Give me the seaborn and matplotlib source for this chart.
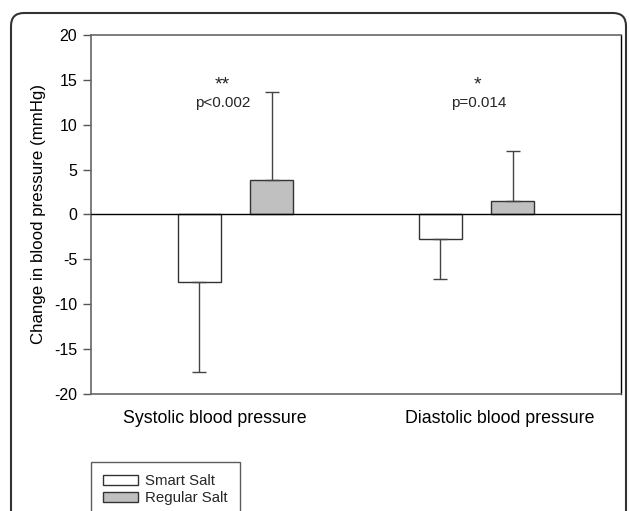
import numpy as np
import pandas as pd
import matplotlib
matplotlib.use('Agg')
import matplotlib.pyplot as plt
import seaborn as sns
from matplotlib.patches import FancyBboxPatch, Patch

# data
categories = ['Systolic blood pressure', 'Diastolic blood pressure']
groups = ['Smart Salt', 'Regular Salt']
smart_means = [-7.5, -2.7]
regular_means = [3.8, 1.5]
smart_err = [10.1, 4.5]      # one-sided SD, drawn away from zero
regular_err = [9.9, 5.6]
stars = ['**', '*']
pvals = ['p<0.002', 'p=0.014']

df = pd.DataFrame({
    'measure': categories * 2,
    'group': [groups[0]] * 2 + [groups[1]] * 2,
    'change': smart_means + regular_means,
    'err': smart_err + regular_err,
})

sns.set_theme(style='white')
plt.rcParams['font.family'] = ['Liberation Sans', 'DejaVu Sans']
plt.rcParams['axes.unicode_minus'] = False

fig = plt.figure(figsize=(6.3, 5.11), dpi=100)
ax = fig.add_axes([0.1444, 0.229, 0.8413, 0.7025])

sns.barplot(data=df, x='measure', y='change', hue='group', order=categories,
            hue_order=groups, palette=['white', '#c0c0c0'], edgecolor='#333333',
            linewidth=1, width=0.6, gap=0.4, errorbar=None, legend=False, ax=ax)

# one-sided error bars, positioned on the bars seaborn drew
for bar, (_, row) in zip(ax.patches, df.iterrows()):
    xc = bar.get_x() + bar.get_width() / 2
    if row['change'] < 0:
        yerr = [[row['err']], [0]]
    else:
        yerr = [[0], [row['err']]]
    ax.errorbar(xc, row['change'], yerr=yerr, fmt='none', ecolor='#444444',
                elinewidth=1, capsize=5, capthick=1)

ax.axhline(0, color='black', lw=1, zorder=3)

ax.set_xlim(-0.6, 1.6)
ax.set_ylim(-20, 20)
ax.set_yticks(np.arange(-20, 21, 5))
ax.set_xticks([-0.5, 0, 0.5, 1, 1.5])
ax.set_xticklabels([])
ax.tick_params(axis='x', direction='in', length=3, color='#555555')
ax.tick_params(axis='y', direction='out', length=6, width=1, color='#555555',
               left=True, labelsize=11.5, labelcolor='black', pad=4)
ax.set_xlabel('')
ax.set_ylabel('Change in blood pressure (mmHg)', fontsize=12.2, color='black', labelpad=6)

for side in ['left', 'top', 'bottom']:
    ax.spines[side].set_color('#666666')
    ax.spines[side].set_linewidth(1.2)
ax.spines['right'].set_color('black')
ax.spines['right'].set_linewidth(1)

# category labels under the axis
label_x = [-0.085, 1.097]
for xl, name in zip(label_x, categories):
    ax.text(xl, -22.7, name, ha='center', va='center', fontsize=12.8, color='black')

# significance annotations
for i, (s, p) in enumerate(zip(stars, pvals)):
    ax.text(i - 0.055 + 0.06 * i, 14.4, s, ha='center', va='center', fontsize=14)
    ax.text(i - 0.055 + 0.065 * i, 12.4, p, ha='center', va='center', fontsize=11)

# legend below, partly cut by the figure edge
handles = [Patch(facecolor='white', edgecolor='#333333', lw=1),
           Patch(facecolor='#c0c0c0', edgecolor='#333333', lw=1)]
leg = fig.legend(handles, groups, loc='upper left',
                 bbox_to_anchor=(91 / 630, 1 - 462 / 511), fontsize=10.8,
                 frameon=True, fancybox=False, edgecolor='#333333',
                 handlelength=2.3, handleheight=0.7, handletextpad=0.5,
                 labelspacing=0.2, borderpad=0.8, borderaxespad=0)
leg.get_frame().set_linewidth(1)
leg.get_frame().set_facecolor('white')

# rounded outer frame running off the bottom
frame = FancyBboxPatch((0.11, -0.5), 6.15, 5.48, boxstyle='round,pad=0,rounding_size=0.13',
                       transform=fig.dpi_scale_trans, facecolor='none',
                       edgecolor='#333333', lw=1.5, zorder=-1)
fig.patches.append(frame)

fig.savefig('out.png', dpi=100)
